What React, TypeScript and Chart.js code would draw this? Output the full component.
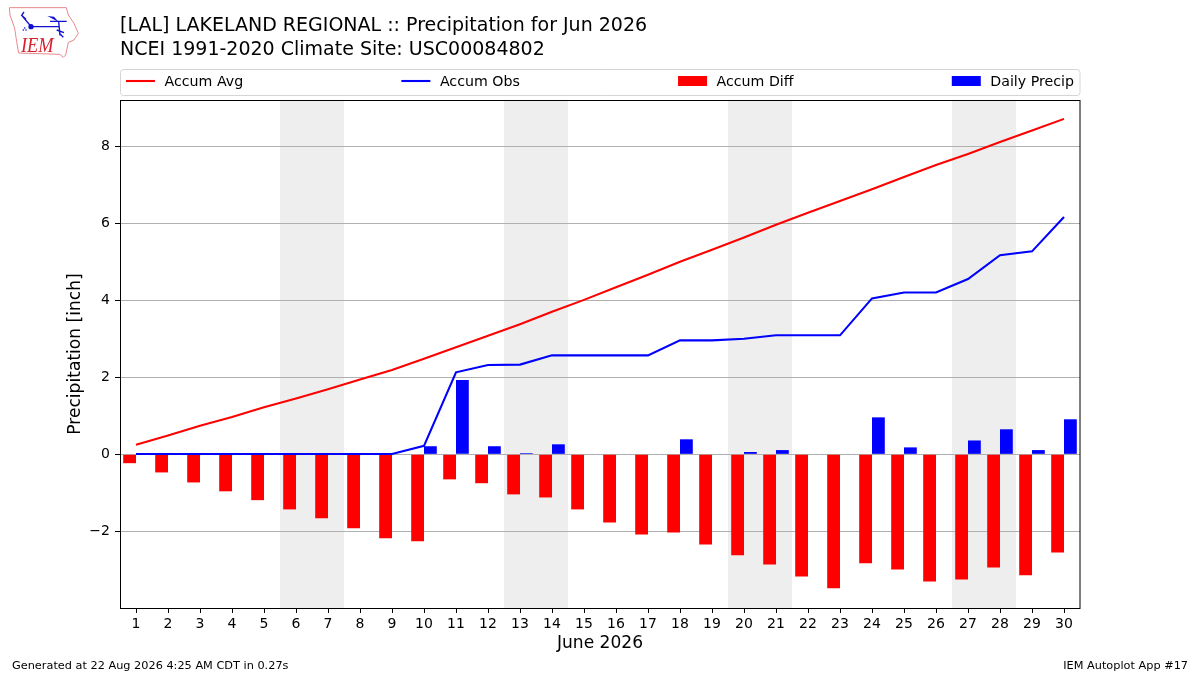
import { useEffect, useRef } from 'react';
import { Chart, registerables } from 'chart.js';
import type { Plugin } from 'chart.js';

Chart.register(...registerables);

const FONT = '"DejaVu Sans"';

const titleLines = [
  '[LAL] LAKELAND REGIONAL :: Precipitation for Jun 2026',
  'NCEI 1991-2020 Climate Site: USC00084802',
];
const footerLeft = 'Generated at 22 Aug 2026 4:25 AM CDT in 0.27s';
const footerRight = 'IEM Autoplot App #17';

const days = [
  '1', '2', '3', '4', '5', '6', '7', '8', '9', '10',
  '11', '12', '13', '14', '15', '16', '17', '18', '19', '20',
  '21', '22', '23', '24', '25', '26', '27', '28', '29', '30',
];
const accumAvg = [
  0.25, 0.49, 0.74, 0.97, 1.22, 1.45, 1.69, 1.94, 2.19, 2.48,
  2.78, 3.08, 3.38, 3.7, 4.01, 4.34, 4.66, 5.0, 5.31, 5.63,
  5.96, 6.27, 6.58, 6.88, 7.2, 7.51, 7.8, 8.11, 8.41, 8.71,
];
const accumObs = [
  0.01, 0.01, 0.01, 0.01, 0.01, 0.01, 0.01, 0.01, 0.01, 0.22,
  2.13, 2.32, 2.33, 2.57, 2.57, 2.57, 2.57, 2.96, 2.96, 3.0,
  3.09, 3.09, 3.09, 4.05, 4.2, 4.2, 4.55, 5.17, 5.27, 6.16,
];
const accumDiff = [
  -0.23, -0.47, -0.73, -0.96, -1.19, -1.43, -1.66, -1.92, -2.18, -2.26,
  -0.65, -0.75, -1.04, -1.12, -1.43, -1.77, -2.08, -2.03, -2.34, -2.62,
  -2.86, -3.17, -3.48, -2.83, -2.99, -3.3, -3.25, -2.94, -3.14, -2.55,
];
const dailyPrecip = [
  0, 0, 0, 0, 0, 0, 0, 0, 0, 0.21,
  1.93, 0.21, 0.03, 0.26, 0, 0, 0, 0.39, 0, 0.06,
  0.11, 0, 0, 0.96, 0.18, 0, 0.36, 0.65, 0.11, 0.91,
];
const yTicks = [-2, 0, 2, 4, 6, 8];
// first day of each weekend in the month
const weekendStarts = ['6', '13', '20', '27'];

const backdrop: Plugin<'bar'> = {
  id: 'backdrop',
  beforeDraw(chart) {
    const { ctx, chartArea, scales } = chart;
    ctx.save();
    ctx.fillStyle = '#eeeeee';
    weekendStarts.forEach((day) => {
      const i = days.indexOf(day);
      const x0 = scales.x.getPixelForValue(i - 0.5);
      const x1 = scales.x.getPixelForValue(i + 1.5);
      ctx.fillRect(x0, chartArea.top, x1 - x0, chartArea.height);
    });
    ctx.restore();
  },
};

const frame: Plugin<'bar'> = {
  id: 'frame',
  afterDraw(chart) {
    const { ctx, chartArea } = chart;
    ctx.save();

    // axes frame
    ctx.strokeStyle = '#000000';
    ctx.lineWidth = 1;
    ctx.strokeRect(
      chartArea.left + 0.5,
      chartArea.top + 0.5,
      chartArea.width - 0.5,
      chartArea.height,
    );

    // title and footer
    ctx.fillStyle = '#000000';
    ctx.textBaseline = 'alphabetic';
    ctx.font = `19px ${FONT}`;
    ctx.fillText(titleLines[0], 120, 31);
    ctx.fillText(titleLines[1], 120, 55);
    ctx.font = `11.3px ${FONT}`;
    ctx.fillText(footerLeft, 12, 669);
    ctx.textAlign = 'right';
    ctx.fillText(footerRight, 1188, 669);
    ctx.textAlign = 'left';

    // legend box, entries spread over the full width
    ctx.strokeStyle = '#d5d5d5';
    ctx.fillStyle = '#ffffff';
    ctx.beginPath();
    ctx.roundRect(120.5, 69.5, 959.5, 26, 3);
    ctx.fill();
    ctx.stroke();

    ctx.font = `14.2px ${FONT}`;
    const sets = chart.data.datasets;
    const widths = sets.map((d) => 29 + 9.5 + ctx.measureText(d.label ?? '').width);
    const gap = (948 - widths.reduce((a, b) => a + b, 0)) / (sets.length - 1);
    let x = 126;
    sets.forEach((d, i) => {
      const isLine = (d as { type?: string }).type === 'line';
      if (isLine) {
        ctx.strokeStyle = d.borderColor as string;
        ctx.lineWidth = 2.1;
        ctx.beginPath();
        ctx.moveTo(x, 81);
        ctx.lineTo(x + 29, 81);
        ctx.stroke();
      } else {
        ctx.fillStyle = d.backgroundColor as string;
        ctx.fillRect(x, 76, 29, 10);
      }
      ctx.fillStyle = '#000000';
      ctx.textBaseline = 'middle';
      ctx.fillText(d.label ?? '', x + 38.5, 82);
      x += widths[i] + gap;
    });
    ctx.restore();
  },
};

function IemLogo() {
  return (
    <svg
      width={80}
      height={60}
      viewBox="0 0 240 180"
      style={{ position: 'absolute', left: 0, top: 0 }}
    >
      <path
        d="M28 23 L199 23 L205 45 L222 70 L235 100 L222 120 L205 127 L197 165 L190 172 L180 163 L56 159 L50 125 L44 85 L30 45 Z"
        fill="#ffffff"
        stroke="#e8888c"
        strokeWidth={3}
      />
      <path
        d="M72 36 L65 46 L78 58 M65 46 L92 78 M92 80 L178 80 M150 64 L200 64 M176 64 L180 106 M170 90 L192 98 M178 100 L190 112"
        fill="none"
        stroke="#1010d0"
        strokeWidth={4}
      />
      <path d="M142 48 L162 50 L176 66 Z" fill="#1010d0" />
      <circle cx={93} cy={80} r={8} fill="#1010d0" />
      <circle cx={70} cy={90} r={2.5} fill="#1010d0" />
      <circle cx={78} cy={90} r={2.5} fill="#1010d0" />
      <circle cx={74} cy={84} r={2.5} fill="#1010d0" />
      <text
        x={63}
        y={155}
        textLength={98}
        lengthAdjust="spacingAndGlyphs"
        fill="#d8202c"
        style={{ font: 'italic 60px "Liberation Serif"' }}
      >
        IEM
      </text>
    </svg>
  );
}

export default function App() {
  const canvasRef = useRef<HTMLCanvasElement>(null);

  useEffect(() => {
    if (!canvasRef.current) return;

    const chart = new Chart(canvasRef.current, {
      type: 'bar',
      data: {
        labels: days,
        datasets: [
          {
            type: 'line',
            label: 'Accum Avg',
            data: accumAvg,
            borderColor: '#ff0000',
            borderWidth: 2.1,
            pointRadius: 0,
            order: 1,
          },
          {
            type: 'line',
            label: 'Accum Obs',
            data: accumObs,
            borderColor: '#0000ff',
            borderWidth: 2.1,
            pointRadius: 0,
            order: 2,
          },
          {
            type: 'bar',
            label: 'Accum Diff',
            data: accumDiff,
            backgroundColor: '#ff0000',
            categoryPercentage: 0.8,
            barPercentage: 1,
            order: 3,
          },
          {
            type: 'bar',
            label: 'Daily Precip',
            data: dailyPrecip,
            backgroundColor: '#0000ff',
            categoryPercentage: 0.8,
            barPercentage: 1,
            order: 4,
          },
        ],
      } as never,
      options: {
        responsive: false,
        animation: false,
        devicePixelRatio: 1,
        font: { family: FONT },
        layout: { padding: { left: 65, top: 100, right: 120, bottom: 21 } },
        plugins: {
          legend: { display: false },
          title: { display: false },
          tooltip: { enabled: false },
        },
        scales: {
          x: {
            grid: {
              offset: false,
              drawOnChartArea: false,
              tickColor: '#000000',
              tickLength: 5,
            },
            border: { display: false },
            ticks: {
              color: '#000000',
              font: { family: FONT, size: 14 },
              padding: 3,
              autoSkip: false,
              maxRotation: 0,
            },
            title: {
              display: true,
              text: 'June 2026',
              color: '#000000',
              font: { family: FONT, size: 17.1 },
              padding: 0,
            },
            afterFit: (scale) => {
              scale.height = 46;
            },
          },
          y: {
            min: -3.99,
            max: 9.2,
            grid: { color: '#b0b0b0', tickColor: '#000000', tickLength: 5 },
            border: { display: false },
            ticks: {
              color: '#000000',
              font: { family: FONT, size: 14 },
              padding: 5,
              callback: (v) => String(v).replace('-', '\u2212'),
            },
            title: {
              display: true,
              text: 'Precipitation [inch]',
              color: '#000000',
              font: { family: FONT, size: 17.1 },
              padding: 0,
            },
            afterBuildTicks: (scale) => {
              scale.ticks = yTicks.map((value) => ({ value }));
            },
            afterFit: (scale) => {
              scale.width = 55;
            },
          },
        },
      },
      plugins: [backdrop, frame],
    });

    return () => {
      chart.destroy();
    };
  }, []);

  return (
    <div style={{ position: 'fixed', left: 0, top: 0, width: 1200, height: 675, background: '#ffffff' }}>
      <canvas ref={canvasRef} width={1200} height={675} style={{ display: 'block' }} />
      <IemLogo />
    </div>
  );
}
